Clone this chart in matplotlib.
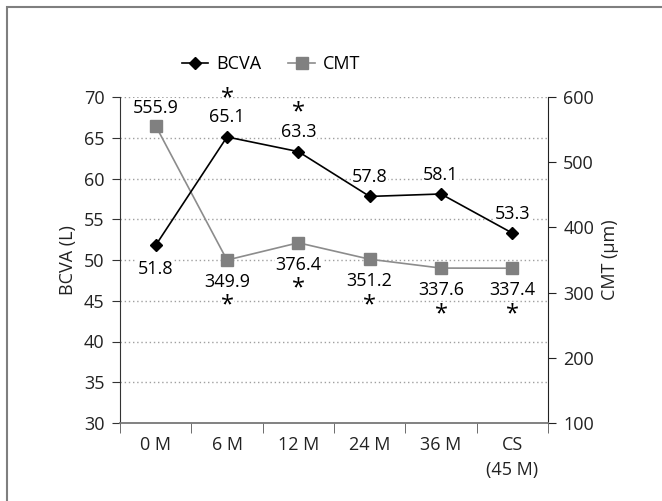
import matplotlib
matplotlib.use('Agg')
import matplotlib.pyplot as plt
from matplotlib.patches import Rectangle
from matplotlib.lines import Line2D

plt.rcParams['font.family'] = ['Open Sans', 'DejaVu Sans']
plt.rcParams['font.size'] = 13

# 数据
months = ['0 M', '6 M', '12 M', '24 M', '36 M', 'CS\n(45 M)']
bcva = [51.8, 65.1, 63.3, 57.8, 58.1, 53.3]
cmt = [555.9, 349.9, 376.4, 351.2, 337.6, 337.4]
bcva_star = [False, True, True, False, False, False]
cmt_star = [False, True, True, True, True, True]

fig = plt.figure(figsize=(6.62, 5.01), dpi=100)
fig.patches.append(Rectangle((7 / 662, -0.1), 1.2, 1 - 7 / 501 + 0.1, transform=fig.transFigure,
                             fill=False, edgecolor='#7f7f7f', linewidth=1.5))

ax = fig.add_axes([120 / 662, 78 / 501, 428 / 662, 326 / 501])
ax2 = ax.twinx()

x = list(range(len(months)))
ax.set_xlim(-0.5, len(months) - 0.5)
ax.set_ylim(30, 70)
ax2.set_ylim(100, 600)
ax.set_yticks(range(30, 71, 5))
ax2.set_yticks(range(100, 601, 100))
ax.set_zorder(ax2.get_zorder() + 1)
ax.patch.set_visible(False)

# 网格（虚线）
for v in range(35, 71, 5):
    ax.axhline(v, color='#a0a0a0', linestyle=(0, (1, 2)), linewidth=1, zorder=0)

# CMT 画在右轴坐标上
ax.plot(x, cmt, color='#8c8c8c', linewidth=1.2, marker='s', markersize=8,
        markerfacecolor='#808080', markeredgecolor='#808080', zorder=3,
        transform=ax2.transData)
ax.plot(x, bcva, color='black', linewidth=1.2, marker='D', markersize=6,
        markerfacecolor='black', zorder=4)

box = dict(facecolor='white', edgecolor='none', pad=0.5)
for i, v in enumerate(bcva):
    dy = -17 if i == 0 else 14
    ax.annotate(f'{v}', (i, v), xytext=(0, dy), textcoords='offset points',
                ha='center', va='center', bbox=box, zorder=2)
    if bcva_star[i]:
        ax.annotate('*', (i, v), xytext=(0, 28), textcoords='offset points',
                    ha='center', va='center', fontsize=17, zorder=2)
for i, v in enumerate(cmt):
    dy = 13 if i == 0 else -16
    ax.annotate(f'{v}', (i, v), xycoords=ax2.transData, xytext=(0, dy),
                textcoords='offset points', ha='center', va='center', bbox=box, zorder=2)
    if cmt_star[i]:
        ax.annotate('*', (i, v), xycoords=ax2.transData, xytext=(0, -33),
                    textcoords='offset points', ha='center', va='center',
                    fontsize=17, bbox=dict(facecolor='white', edgecolor='none', pad=0),
                    zorder=1)

# 坐标轴样式
ax.set_xticks(x)
ax.set_xticklabels(months, linespacing=1.5)
ax.set_xticks([i - 0.5 for i in range(len(months) + 1)], minor=True)
ax.tick_params(axis='x', which='major', length=0, pad=9, colors='#222222')
ax.tick_params(axis='x', which='minor', length=7, direction='out', color='#555555')
ax.tick_params(axis='y', length=6, direction='out', color='#333333', colors='#222222', pad=5)
ax2.tick_params(axis='y', length=6, direction='out', color='#222222', colors='#222222', pad=5)
for s in ['top', 'right']:
    ax.spines[s].set_visible(False)
ax.spines['left'].set_color('#333333')
ax.spines['bottom'].set_color('#777777')
ax.spines['bottom'].set_linewidth(1.3)
for s in ['top', 'left', 'bottom']:
    ax2.spines[s].set_visible(False)
ax2.spines['right'].set_color('#222222')

ax.set_ylabel('BCVA (L)', color='#222222', labelpad=5)
ax2.set_ylabel('CMT (µm)', color='#222222', labelpad=5)

handles = [Line2D([], [], color='black', marker='D', markersize=6, linewidth=1.2),
           Line2D([], [], color='#8c8c8c', marker='s', markersize=8, linewidth=1.2,
                  markerfacecolor='#808080', markeredgecolor='#808080')]
fig.legend(handles, ['BCVA', 'CMT'], loc='center', bbox_to_anchor=(271 / 662, 1 - 64 / 501),
           ncol=2, frameon=False, handlelength=1.45, columnspacing=1.5, handletextpad=0.45)

fig.savefig('out.png', dpi=100)
